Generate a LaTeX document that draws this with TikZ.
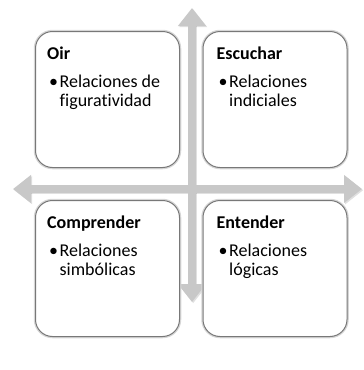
\documentclass[tikz,border=0pt]{standalone}
\usepackage{fontspec}
\setmainfont{Carlito}[Ligatures=CommonOff]
\usetikzlibrary{arrows.meta}
\usetikzlibrary{positioning}
\usetikzlibrary{calc}
\definecolor{mgray}{RGB}{200,200,200}
\definecolor{mborder}{RGB}{120,120,120}

\begin{document}
\begin{tikzpicture}[x=1pt, y=-1pt,
    caja/.style={draw=mborder, line width=1pt, fill=white, rounded corners=17pt,
      minimum width=144pt, minimum height=136pt, inner sep=0pt,
      preaction={draw=black!16, line width=3.5pt}},
    eje/.style={mgray, line width=8.5pt,
      {Triangle[width=27pt,length=18pt]}-{Triangle[width=27pt,length=18pt]}},
    titulo/.style={anchor=base west, inner sep=0pt, font=\fontsize{18}{19.5}\selectfont\bfseries},
    punto/.style={anchor=base west, inner sep=0pt, font=\fontsize{18}{19.5}\selectfont}]
    \useasboundingbox (0,0) rectangle (364,370);

    % ejes
    \coordinate (izq) at (13,189);
    \coordinate (der) at (362,189);
    \coordinate (arr) at (192,8);
    \coordinate (abj) at (192,302);
    \draw [eje, black, opacity=0.12, transform canvas={shift={(1.2pt,-1.2pt)}}] (izq) -- (der);
    \draw [eje, black, opacity=0.12, transform canvas={shift={(1.2pt,-1.2pt)}}] (abj) -- (arr);
    \draw [eje] (izq) -- (der);
    \draw [eje] (abj) -- (arr);

    % cuadros
    \node [caja] (oir) at (107.5,99.5) {};
    \node [caja] (escuchar) at (275,99.5) {};
    \node [caja] (comprender) at (107.5,268.5) {};
    \node [caja] (entender) at (275,268.5) {};

    \node [titulo] (oirT) at ($(oir.north west)+(12,28)$) {Oir};
    \node [punto] (oirP) at ($(oir.north west)+(14,56)$)
      {\makebox[10.5pt][l]{\textbullet}\parbox[t]{118pt}{Relaciones de\\figuratividad}};

    \node [titulo] (escucharT) at ($(escuchar.north west)+(14,28)$) {Escuchar};
    \node [punto] (escucharP) at ($(escuchar.north west)+(16,56)$)
      {\makebox[10.5pt][l]{\textbullet}\parbox[t]{118pt}{Relaciones\\indiciales}};

    \node [titulo] (comprenderT) at ($(comprender.north west)+(12,28)$) {Comprender};
    \node [punto] (comprenderP) at ($(comprender.north west)+(14,56)$)
      {\makebox[10.5pt][l]{\textbullet}\parbox[t]{118pt}{Relaciones\\simbólicas}};

    \node [titulo] (entenderT) at ($(entender.north west)+(14,28)$) {Entender};
    \node [punto] (entenderP) at ($(entender.north west)+(16,56)$)
      {\makebox[10.5pt][l]{\textbullet}\parbox[t]{118pt}{Relaciones\\lógicas}};
  \end{tikzpicture}
\end{document}
